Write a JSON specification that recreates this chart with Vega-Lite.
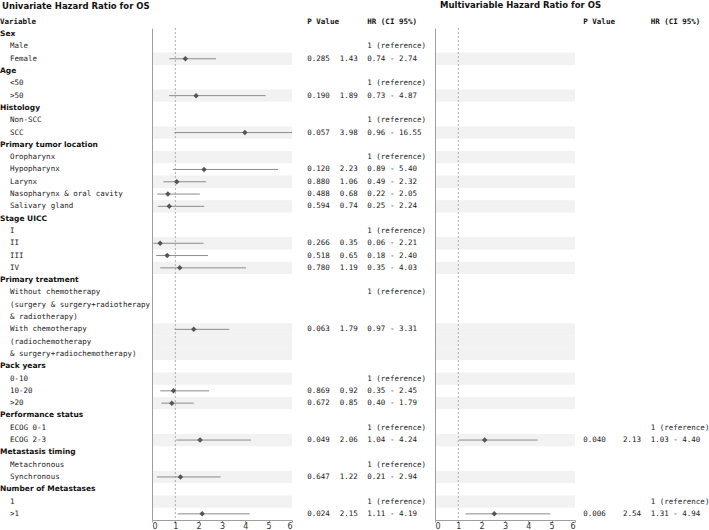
{
  "$schema": "https://vega.github.io/schema/vega-lite/v6.json",
  "autosize": {"type": "pad"},
  "padding": {"left": 0, "top": 1, "right": 0, "bottom": 0},
  "spacing": 0,
  "bounds": "flush",
  "config": {
    "view": {"stroke": null},
    "axis": {"grid": false, "domainColor": "#9e9e9e", "tickColor": "#9e9e9e", "labelFont": "DejaVu Sans", "labelFontSize": 8, "labelColor": "#333333", "domainWidth": 1}
  },
  "datasets": {
    "rows": [
      {"r":1,"lab":"Sex","k":"g","sh":0},
      {"r":2,"lab":"Male","k":"i","sh":0,"uc":"1 (reference)"},
      {"r":3,"lab":"Female","k":"i","sh":1,"up":0.285,"uh":1.43,"ul":0.74,"uu":2.74,"uc":"0.74 - 2.74"},
      {"r":4,"lab":"Age","k":"g","sh":0},
      {"r":5,"lab":"<50","k":"i","sh":0,"uc":"1 (reference)"},
      {"r":6,"lab":">50","k":"i","sh":1,"up":0.190,"uh":1.89,"ul":0.73,"uu":4.87,"uc":"0.73 - 4.87"},
      {"r":7,"lab":"Histology","k":"g","sh":0},
      {"r":8,"lab":"Non-SCC","k":"i","sh":0,"uc":"1 (reference)"},
      {"r":9,"lab":"SCC","k":"i","sh":1,"up":0.057,"uh":3.98,"ul":0.96,"uu":16.55,"uc":"0.96 - 16.55"},
      {"r":10,"lab":"Primary tumor location","k":"g","sh":0},
      {"r":11,"lab":"Oropharynx","k":"i","sh":1,"uc":"1 (reference)"},
      {"r":12,"lab":"Hypopharynx","k":"i","sh":0,"up":0.120,"uh":2.23,"ul":0.89,"uu":5.40,"uc":"0.89 - 5.40"},
      {"r":13,"lab":"Larynx","k":"i","sh":1,"up":0.880,"uh":1.06,"ul":0.49,"uu":2.32,"uc":"0.49 - 2.32"},
      {"r":14,"lab":"Nasopharynx & oral cavity","k":"i","sh":0,"up":0.488,"uh":0.68,"ul":0.22,"uu":2.05,"uc":"0.22 - 2.05"},
      {"r":15,"lab":"Salivary gland","k":"i","sh":1,"up":0.594,"uh":0.74,"ul":0.25,"uu":2.24,"uc":"0.25 - 2.24"},
      {"r":16,"lab":"Stage UICC","k":"g","sh":0},
      {"r":17,"lab":"I","k":"i","sh":0,"uc":"1 (reference)"},
      {"r":18,"lab":"II","k":"i","sh":1,"up":0.266,"uh":0.35,"ul":0.06,"uu":2.21,"uc":"0.06 - 2.21"},
      {"r":19,"lab":"III","k":"i","sh":0,"up":0.518,"uh":0.65,"ul":0.18,"uu":2.40,"uc":"0.18 - 2.40"},
      {"r":20,"lab":"IV","k":"i","sh":1,"up":0.780,"uh":1.19,"ul":0.35,"uu":4.03,"uc":"0.35 - 4.03"},
      {"r":21,"lab":"Primary treatment","k":"g","sh":0},
      {"r":22,"lab":"Without chemotherapy","k":"i","sh":0,"uc":"1 (reference)"},
      {"r":23,"lab":"(surgery & surgery+radiotherapy","k":"i","sh":0},
      {"r":24,"lab":"& radiotherapy)","k":"i","sh":0},
      {"r":25,"lab":"With chemotherapy","k":"i","sh":1,"up":0.063,"uh":1.79,"ul":0.97,"uu":3.31,"uc":"0.97 - 3.31"},
      {"r":26,"lab":"(radiochemotherapy","k":"i","sh":1},
      {"r":27,"lab":"& surgery+radiochemotherapy)","k":"i","sh":1},
      {"r":28,"lab":"Pack years","k":"g","sh":0},
      {"r":29,"lab":"0-10","k":"i","sh":1,"uc":"1 (reference)"},
      {"r":30,"lab":"10-20","k":"i","sh":0,"up":0.869,"uh":0.92,"ul":0.35,"uu":2.45,"uc":"0.35 - 2.45"},
      {"r":31,"lab":">20","k":"i","sh":1,"up":0.672,"uh":0.85,"ul":0.40,"uu":1.79,"uc":"0.40 - 1.79"},
      {"r":32,"lab":"Performance status","k":"g","sh":0},
      {"r":33,"lab":"ECOG 0-1","k":"i","sh":0,"uc":"1 (reference)","mc":"1 (reference)"},
      {"r":34,"lab":"ECOG 2-3","k":"i","sh":1,"up":0.049,"uh":2.06,"ul":1.04,"uu":4.24,"uc":"1.04 - 4.24","mp":0.040,"mh":2.13,"ml":1.03,"mu":4.40,"mc":"1.03 - 4.40"},
      {"r":35,"lab":"Metastasis timing","k":"g","sh":0},
      {"r":36,"lab":"Metachronous","k":"i","sh":0,"uc":"1 (reference)"},
      {"r":37,"lab":"Synchronous","k":"i","sh":1,"up":0.647,"uh":1.22,"ul":0.21,"uu":2.94,"uc":"0.21 - 2.94"},
      {"r":38,"lab":"Number of Metastases","k":"g","sh":0},
      {"r":39,"lab":"1","k":"i","sh":1,"uc":"1 (reference)","mc":"1 (reference)"},
      {"r":40,"lab":">1","k":"i","sh":0,"up":0.024,"uh":2.15,"ul":1.11,"uu":4.19,"uc":"1.11 - 4.19","mp":0.006,"mh":2.54,"ml":1.31,"mu":4.94,"mc":"1.31 - 4.94"}
    ],
    "hdr": [
      {"r":0,"t":"P Value","c":1},
      {"r":0,"t":"HR (CI 95%)","c":3}
    ]
  },
  "resolve": {"scale": {"x": "independent", "y": "independent"}},
  "hconcat": [
    {
      "width": 152, "height": 492,
      "title": {"text": "Univariate Hazard Ratio for OS", "anchor": "start", "frame": "group", "dx": 2, "offset": 0, "baseline": "alphabetic", "font": "DejaVu Sans", "fontSize": 8.5, "fontWeight": "bold", "color": "#111111"},
      "data": {"name": "rows"},
      "encoding": {"y": {"field": "r", "type": "ordinal", "scale": {"domain": [0,1,2,3,4,5,6,7,8,9,10,11,12,13,14,15,16,17,18,19,20,21,22,23,24,25,26,27,28,29,30,31,32,33,34,35,36,37,38,39,40], "range": [-12.3, 492], "paddingInner": 0, "paddingOuter": 0}, "axis": null}},
      "layer": [
        {"data": {"values": [{"r": 0, "t": "Variable"}]},
         "mark": {"type": "text", "align": "left", "baseline": "middle", "font": "DejaVu Sans Mono", "fontWeight": "bold", "fontSize": 7.5, "color": "#111111"},
         "encoding": {"x": {"datum": 0, "type": "quantitative", "scale": {"domain": [0, 1], "range": [0, 10], "zero": false, "nice": false}, "axis": null}, "text": {"field": "t"}}},
        {"transform": [{"filter": "datum.k == 'g'"}],
         "mark": {"type": "text", "align": "left", "baseline": "middle", "font": "DejaVu Sans", "fontWeight": "bold", "fontSize": 7.5, "color": "#111111"},
         "encoding": {"x": {"datum": 0, "type": "quantitative", "axis": null}, "text": {"field": "lab"}}},
        {"transform": [{"filter": "datum.k == 'i'"}],
         "mark": {"type": "text", "align": "left", "baseline": "middle", "font": "DejaVu Sans Mono", "fontSize": 7.5, "color": "#222222"},
         "encoding": {"x": {"datum": 1, "type": "quantitative", "axis": null}, "text": {"field": "lab"}}}
      ]
    },
    {
      "width": 140, "height": 492,
      "data": {"name": "rows"},
      "layer": [
        {"transform": [{"filter": "datum.sh == 1"}],
         "mark": {"type": "rect", "color": "#f2f2f2"},
         "encoding": {
           "y": {"field": "r", "type": "ordinal", "scale": {"domain": [1,2,3,4,5,6,7,8,9,10,11,12,13,14,15,16,17,18,19,20,21,22,23,24,25,26,27,28,29,30,31,32,33,34,35,36,37,38,39,40], "paddingInner": 0, "paddingOuter": 0}, "axis": {"labels": false, "ticks": false, "title": null, "domain": true}},
           "x": {"datum": 0, "type": "quantitative", "scale": {"domain": [0, 6], "clamp": true, "nice": false, "zero": false}, "axis": {"values": [0,1,2,3,4,5,6], "title": null, "tickSize": 2, "labelPadding": 0}},
           "x2": {"datum": 6}}},
        {"data": {"values": [{}]},
         "mark": {"type": "rule", "color": "#9a9a9a", "strokeDash": [2, 2], "strokeWidth": 0.8},
         "encoding": {"x": {"datum": 1, "type": "quantitative", "axis": {"values": [0,1,2,3,4,5,6], "title": null, "tickSize": 2, "labelPadding": 0}}}},
        {"transform": [{"filter": "isValid(datum.uh)"}],
         "mark": {"type": "rule", "color": "#8c8c8c", "strokeWidth": 1},
         "encoding": {
           "y": {"field": "r", "type": "ordinal", "axis": {"labels": false, "ticks": false, "title": null, "domain": true}},
           "x": {"field": "ul", "type": "quantitative", "axis": {"values": [0,1,2,3,4,5,6], "title": null, "tickSize": 2, "labelPadding": 0}},
           "x2": {"field": "uu"}}},
        {"transform": [{"filter": "isValid(datum.uh)"}],
         "mark": {"type": "point", "shape": "diamond", "filled": true, "color": "#555555", "size": 30, "opacity": 1},
         "encoding": {
           "y": {"field": "r", "type": "ordinal", "axis": {"labels": false, "ticks": false, "title": null, "domain": true}},
           "x": {"field": "uh", "type": "quantitative", "axis": {"values": [0,1,2,3,4,5,6], "title": null, "tickSize": 2, "labelPadding": 0}}}}
      ]
    },
    {
      "width": 143, "height": 492,
      "data": {"name": "rows"},
      "encoding": {"y": {"field": "r", "type": "ordinal", "scale": {"domain": [0,1,2,3,4,5,6,7,8,9,10,11,12,13,14,15,16,17,18,19,20,21,22,23,24,25,26,27,28,29,30,31,32,33,34,35,36,37,38,39,40], "range": [-12.3, 492], "paddingInner": 0, "paddingOuter": 0}, "axis": null}},
      "layer": [
        {"data": {"name": "hdr"},
         "mark": {"type": "text", "align": "left", "baseline": "middle", "font": "DejaVu Sans Mono", "fontWeight": "bold", "fontSize": 7.5, "color": "#111111"},
         "encoding": {"x": {"field": "c", "type": "quantitative", "scale": {"domain": [1, 2, 3], "range": [15.3, 65.7, 75.3], "zero": false, "nice": false}, "axis": null}, "text": {"field": "t"}}},
        {"transform": [{"filter": "isValid(datum.up)"}],
         "mark": {"type": "text", "align": "left", "baseline": "middle", "font": "DejaVu Sans Mono", "fontSize": 7.5, "color": "#222222"},
         "encoding": {"x": {"datum": 1, "type": "quantitative", "axis": null}, "text": {"field": "up", "type": "quantitative", "format": ".3f"}}},
        {"transform": [{"filter": "isValid(datum.uh)"}],
         "mark": {"type": "text", "align": "right", "baseline": "middle", "font": "DejaVu Sans Mono", "fontSize": 7.5, "color": "#222222"},
         "encoding": {"x": {"datum": 2, "type": "quantitative", "axis": null}, "text": {"field": "uh", "type": "quantitative", "format": ".2f"}}},
        {"transform": [{"filter": "isValid(datum.uc)"}],
         "mark": {"type": "text", "align": "left", "baseline": "middle", "font": "DejaVu Sans Mono", "fontSize": 7.5, "color": "#222222"},
         "encoding": {"x": {"datum": 3, "type": "quantitative", "axis": null}, "text": {"field": "uc"}}}
      ]
    },
    {
      "width": 140, "height": 492,
      "title": {"text": "Multivariable Hazard Ratio for OS", "anchor": "start", "frame": "group", "dx": 5, "offset": 11, "baseline": "alphabetic", "font": "DejaVu Sans", "fontSize": 8.5, "fontWeight": "bold", "color": "#111111"},
      "data": {"name": "rows"},
      "layer": [
        {"transform": [{"filter": "datum.sh == 1"}],
         "mark": {"type": "rect", "color": "#f2f2f2"},
         "encoding": {
           "y": {"field": "r", "type": "ordinal", "scale": {"domain": [1,2,3,4,5,6,7,8,9,10,11,12,13,14,15,16,17,18,19,20,21,22,23,24,25,26,27,28,29,30,31,32,33,34,35,36,37,38,39,40], "paddingInner": 0, "paddingOuter": 0}, "axis": {"labels": false, "ticks": false, "title": null, "domain": true}},
           "x": {"datum": 0, "type": "quantitative", "scale": {"domain": [0, 6], "clamp": true, "nice": false, "zero": false}, "axis": {"values": [0,1,2,3,4,5,6], "title": null, "tickSize": 2, "labelPadding": 0}},
           "x2": {"datum": 6}}},
        {"data": {"values": [{}]},
         "mark": {"type": "rule", "color": "#9a9a9a", "strokeDash": [2, 2], "strokeWidth": 0.8},
         "encoding": {"x": {"datum": 1, "type": "quantitative", "axis": {"values": [0,1,2,3,4,5,6], "title": null, "tickSize": 2, "labelPadding": 0}}}},
        {"transform": [{"filter": "isValid(datum.mh)"}],
         "mark": {"type": "rule", "color": "#8c8c8c", "strokeWidth": 1},
         "encoding": {
           "y": {"field": "r", "type": "ordinal", "axis": {"labels": false, "ticks": false, "title": null, "domain": true}},
           "x": {"field": "ml", "type": "quantitative", "axis": {"values": [0,1,2,3,4,5,6], "title": null, "tickSize": 2, "labelPadding": 0}},
           "x2": {"field": "mu"}}},
        {"transform": [{"filter": "isValid(datum.mh)"}],
         "mark": {"type": "point", "shape": "diamond", "filled": true, "color": "#555555", "size": 30, "opacity": 1},
         "encoding": {
           "y": {"field": "r", "type": "ordinal", "axis": {"labels": false, "ticks": false, "title": null, "domain": true}},
           "x": {"field": "mh", "type": "quantitative", "axis": {"values": [0,1,2,3,4,5,6], "title": null, "tickSize": 2, "labelPadding": 0}}}}
      ]
    },
    {
      "width": 134, "height": 492,
      "data": {"name": "rows"},
      "encoding": {"y": {"field": "r", "type": "ordinal", "scale": {"domain": [0,1,2,3,4,5,6,7,8,9,10,11,12,13,14,15,16,17,18,19,20,21,22,23,24,25,26,27,28,29,30,31,32,33,34,35,36,37,38,39,40], "range": [-12.3, 492], "paddingInner": 0, "paddingOuter": 0}, "axis": null}},
      "layer": [
        {"data": {"name": "hdr"},
         "mark": {"type": "text", "align": "left", "baseline": "middle", "font": "DejaVu Sans Mono", "fontWeight": "bold", "fontSize": 7.5, "color": "#111111"},
         "encoding": {"x": {"field": "c", "type": "quantitative", "scale": {"domain": [1, 2, 3], "range": [8.3, 66, 75.7], "zero": false, "nice": false}, "axis": null}, "text": {"field": "t"}}},
        {"transform": [{"filter": "isValid(datum.mp)"}],
         "mark": {"type": "text", "align": "left", "baseline": "middle", "font": "DejaVu Sans Mono", "fontSize": 7.5, "color": "#222222"},
         "encoding": {"x": {"datum": 1, "type": "quantitative", "axis": null}, "text": {"field": "mp", "type": "quantitative", "format": ".3f"}}},
        {"transform": [{"filter": "isValid(datum.mh)"}],
         "mark": {"type": "text", "align": "right", "baseline": "middle", "font": "DejaVu Sans Mono", "fontSize": 7.5, "color": "#222222"},
         "encoding": {"x": {"datum": 2, "type": "quantitative", "axis": null}, "text": {"field": "mh", "type": "quantitative", "format": ".2f"}}},
        {"transform": [{"filter": "isValid(datum.mc)"}],
         "mark": {"type": "text", "align": "left", "baseline": "middle", "font": "DejaVu Sans Mono", "fontSize": 7.5, "color": "#222222"},
         "encoding": {"x": {"datum": 3, "type": "quantitative", "axis": null}, "text": {"field": "mc"}}}
      ]
    }
  ]
}
